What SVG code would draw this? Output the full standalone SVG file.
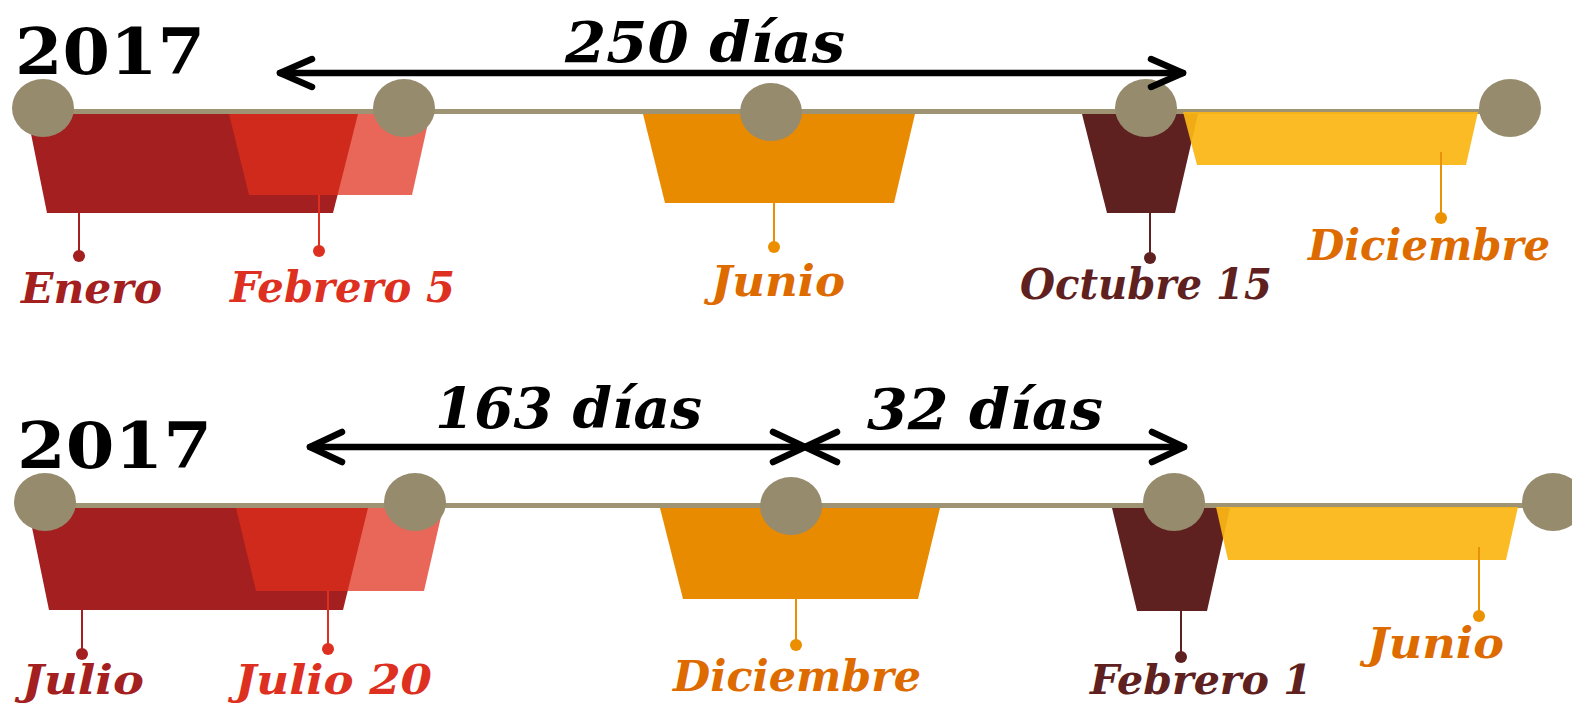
<svg xmlns="http://www.w3.org/2000/svg" width="1572" height="705" viewBox="0 0 1572 705">
<style>
.yr{font-family:"DejaVu Serif","Liberation Serif",serif;font-weight:bold;font-size:63px;fill:#000}
.dd{font-family:"DejaVu Serif","Liberation Serif",serif;font-weight:bold;font-style:italic;font-size:56px;fill:#000}
.lb{font-family:"DejaVu Serif","Liberation Serif",serif;font-weight:bold;font-style:italic;font-size:42px}
.tl{stroke:#9e9474;stroke-width:5}
.dot{fill:#968b6d}
.arr{fill:none;stroke:#000;stroke-width:6.5;stroke-linecap:round;stroke-linejoin:round}
.c1{fill:#a31f20}.c2{fill:#df2f1c;fill-opacity:0.73}.c3{fill:#e98b00}.c4{fill:#5f2120}.c5{fill:#fbb614;fill-opacity:0.93}
.s1{stroke:#a31f20;stroke-width:2}.s2{stroke:#de3021;stroke-width:2}.s3{stroke:#eb8e00;stroke-width:2}.s4{stroke:#5f2120;stroke-width:2}.s5{stroke:#e8920a;stroke-width:2}
.t1{fill:#a31f20}.t2{fill:#de3021}.t3{fill:#dd6b00}.t4{fill:#5f2120}
</style>

<!-- Top timeline -->
<g id="timeline-top">
  <text class="yr" x="15" y="74" textLength="190" lengthAdjust="spacingAndGlyphs">2017</text>
  <line class="tl" x1="43" y1="111.5" x2="1510" y2="111.5"/>
</g>
<g id="enero">
  <polygon class="c1" points="27,114 358,114 333,213 47,213"/>
</g>
<g id="febrero5">
  <polygon class="c2" points="229,114 430,114 412,195 249,195"/>
</g>
<g id="junio-top">
  <polygon class="c3" points="643,114 915,114 894,203 665,203"/>
</g>
<g id="octubre15">
  <polygon class="c4" points="1082,114 1198,114 1175,213 1107,213"/>
</g>
<g id="diciembre-top">
  <polygon class="c5" points="1183,112 1478,112 1466,165 1197,165"/>
</g>
<g id="stems-top">
  <line class="s1" x1="79" y1="213" x2="79" y2="256"/><circle class="c1" cx="79" cy="256" r="6"/>
  <line class="s2" x1="319" y1="195" x2="319" y2="251"/><circle fill="#de3021" cx="319" cy="251" r="6"/>
  <line class="s3" x1="774" y1="203" x2="774" y2="247"/><circle fill="#eb8e00" cx="774" cy="247" r="6"/>
  <line class="s4" x1="1150" y1="213" x2="1150" y2="258"/><circle class="c4" cx="1150" cy="258" r="6"/>
  <line class="s5" x1="1441" y1="152" x2="1441" y2="218"/><circle fill="#ec9200" cx="1441" cy="218" r="6"/>
</g>
<g id="circles-top">
  <ellipse class="dot" cx="43" cy="108" rx="31" ry="29"/>
  <ellipse class="dot" cx="404" cy="108" rx="31" ry="29"/>
  <ellipse class="dot" cx="771" cy="112" rx="31" ry="29"/>
  <ellipse class="dot" cx="1146" cy="108" rx="31" ry="29"/>
  <ellipse class="dot" cx="1510" cy="108" rx="31" ry="29"/>
</g>
<g id="labels-top">
  <text class="lb t1" x="21" y="303" textLength="141" lengthAdjust="spacingAndGlyphs">Enero</text>
  <text class="lb t2" x="230" y="302" textLength="225" lengthAdjust="spacingAndGlyphs">Febrero 5</text>
  <text class="lb t3" x="711" y="296" textLength="134" lengthAdjust="spacingAndGlyphs">Junio</text>
  <text class="lb t4" x="1020" y="299" textLength="252" lengthAdjust="spacingAndGlyphs">Octubre 15</text>
  <text class="lb t3" x="1308" y="260" textLength="242" lengthAdjust="spacingAndGlyphs">Diciembre</text>
</g>

<!-- Bottom timeline -->
<g id="timeline-bottom">
  <text class="yr" x="17" y="468" textLength="195" lengthAdjust="spacingAndGlyphs">2017</text>
  <line class="tl" x1="45" y1="505.5" x2="1553" y2="505.5"/>
</g>
<g id="julio">
  <polygon class="c1" points="28,508 368,508 343,610 49,610"/>
</g>
<g id="julio20">
  <polygon class="c2" points="236,508 443,508 424,591 256,591"/>
</g>
<g id="diciembre-bottom">
  <polygon class="c3" points="660,508 940,508 918,599 683,599"/>
</g>
<g id="febrero1">
  <polygon class="c4" points="1112,508 1230,508 1207,611 1137,611"/>
</g>
<g id="junio-bottom">
  <polygon class="c5" points="1216,507 1518,507 1506,560 1228,560"/>
</g>
<g id="stems-bottom">
  <line class="s1" x1="82" y1="610" x2="82" y2="654"/><circle class="c1" cx="82" cy="654" r="6"/>
  <line class="s2" x1="328" y1="591" x2="328" y2="649"/><circle fill="#de3021" cx="328" cy="649" r="6"/>
  <line class="s3" x1="796" y1="599" x2="796" y2="645"/><circle fill="#eb8e00" cx="796" cy="645" r="6"/>
  <line class="s4" x1="1181" y1="611" x2="1181" y2="657"/><circle class="c4" cx="1181" cy="657" r="6"/>
  <line class="s5" x1="1479" y1="547" x2="1479" y2="616"/><circle fill="#ec9200" cx="1479" cy="616" r="6"/>
</g>
<g id="circles-bottom">
  <ellipse class="dot" cx="45" cy="502" rx="31" ry="29"/>
  <ellipse class="dot" cx="415" cy="502" rx="31" ry="29"/>
  <ellipse class="dot" cx="791" cy="506" rx="31" ry="29"/>
  <ellipse class="dot" cx="1174" cy="502" rx="31" ry="29"/>
  <ellipse class="dot" cx="1553" cy="502" rx="31" ry="29"/>
</g>
<g id="labels-bottom">
  <text class="lb t1" x="22" y="694" textLength="122" lengthAdjust="spacingAndGlyphs" style="font-size:41px">Julio</text>
  <text class="lb t2" x="235" y="694" textLength="197" lengthAdjust="spacingAndGlyphs" style="font-size:41px">Julio 20</text>
  <text class="lb t3" x="673" y="691" textLength="248" lengthAdjust="spacingAndGlyphs">Diciembre</text>
  <text class="lb t4" x="1090" y="694" textLength="222" lengthAdjust="spacingAndGlyphs" style="font-size:41px">Febrero 1</text>
  <text class="lb t3" x="1367" y="658" textLength="137" lengthAdjust="spacingAndGlyphs">Junio</text>
</g>

<!-- Connectors (duration arrows) -->
<g id="connectors">
  <line class="arr" x1="280" y1="73" x2="1183" y2="73"/>
  <polyline class="arr" points="312,59 280,73 312,87"/>
  <polyline class="arr" points="1151,59 1183,73 1151,87"/>
  <line class="arr" x1="310" y1="447" x2="1184" y2="447"/>
  <polyline class="arr" points="342,432 310,447 342,462"/>
  <polyline class="arr" points="773,432 805,447 773,462"/>
  <polyline class="arr" points="837,432 805,447 837,462"/>
  <polyline class="arr" points="1152,432 1184,447 1152,462"/>
</g>
<g id="durations">
  <text class="dd" x="565" y="62" textLength="280" lengthAdjust="spacingAndGlyphs">250 días</text>
  <text class="dd" x="435" y="428" textLength="267" lengthAdjust="spacingAndGlyphs">163 días</text>
  <text class="dd" x="867" y="429" textLength="236" lengthAdjust="spacingAndGlyphs">32 días</text>
</g>
</svg>
